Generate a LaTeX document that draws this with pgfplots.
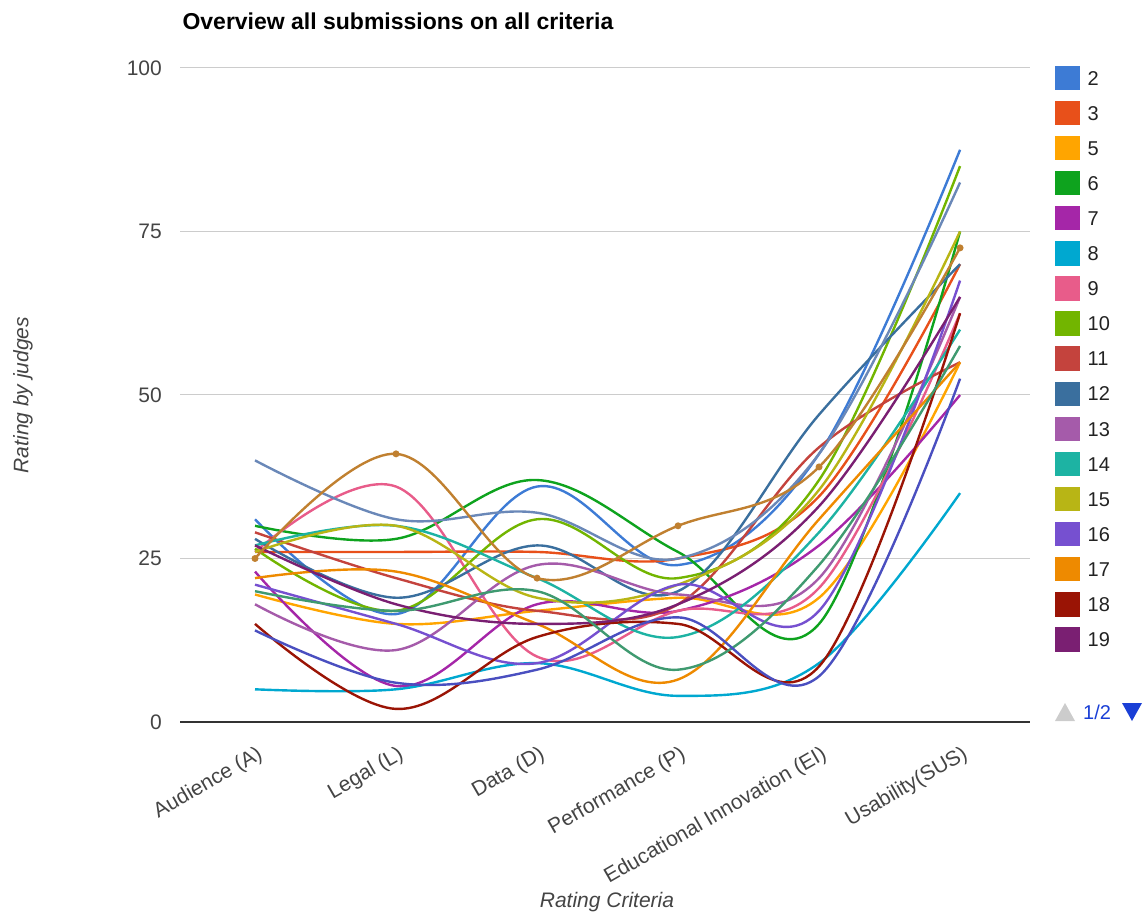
\documentclass[border=0pt]{standalone}
\usepackage{fontspec}
\setmainfont{Liberation Sans}
\usepackage{pgfplots}
\pgfplotsset{compat=1.18}

\definecolor{cA}{HTML}{3D7BD5}
\definecolor{cB}{HTML}{E8501A}
\definecolor{cC}{HTML}{FFA500}
\definecolor{cD}{HTML}{0EA31E}
\definecolor{cE}{HTML}{A526A8}
\definecolor{cF}{HTML}{00A8D0}
\definecolor{cG}{HTML}{E85C8A}
\definecolor{cH}{HTML}{72B500}
\definecolor{cI}{HTML}{C4433D}
\definecolor{cJ}{HTML}{3A6F9E}
\definecolor{cK}{HTML}{A55BAA}
\definecolor{cL}{HTML}{1DB3A3}
\definecolor{cM}{HTML}{B8B515}
\definecolor{cN}{HTML}{7650D0}
\definecolor{cO}{HTML}{EE8A00}
\definecolor{cP}{HTML}{9A1405}
\definecolor{cQ}{HTML}{7A1F72}
\definecolor{cR}{HTML}{3F9A70}
\definecolor{cS}{HTML}{6A88B8}
\definecolor{cT}{HTML}{4A4FC0}
\definecolor{cU}{HTML}{C08030}
\definecolor{gridgray}{HTML}{CCCCCC}
\definecolor{axisgray}{HTML}{333333}
\definecolor{tickgray}{HTML}{444444}
\definecolor{legtext}{HTML}{222222}
\definecolor{pagerblue}{HTML}{1A3FD6}

\begin{document}
\begin{tikzpicture}[x=1pt,y=1pt]
\path[use as bounding box] (0,0) rectangle (1145,916);
\begin{axis}[
    at={(180pt,194pt)}, anchor=south west,
    scale only axis, width=850pt, height=654pt,
    xmin=-0.532, xmax=5.496, ymin=0, ymax=100,
    xtick={0,...,5},
    xticklabels={Audience (A), Legal (L), Data (D), Performance (P),
                 Educational Innovation (EI), Usability(SUS)},
    ytick={0,25,50,75,100},
    ymajorgrids, grid style={draw=gridgray, line width=1pt},
    major tick length=0pt,
    axis x line*=bottom, axis y line*=left,
    x axis line style={draw=axisgray, line width=1.5pt, -},
    y axis line style={draw=none},
    /pgf/number format/assume math mode=true,
    tick label style={font=\fontsize{21}{24}\selectfont, text=tickgray},
    yticklabel style={anchor=east, inner sep=0pt, xshift=-18pt},
    xticklabel style={xshift=6pt, yshift=-31pt, anchor=east, inner sep=0pt, rotate=30},
    every axis plot/.append style={smooth, tension=0.6, line width=2.4pt},
    legend style={at={(axis description cs:1.026,1.007)}, anchor=north west,
        draw=none, fill=none, font=\fontsize{20}{22}\selectfont, text=legtext,
        row sep=10.7pt, nodes={inner sep=1pt},
        /tikz/every odd column/.append style={column sep=7pt}},
    legend cell align=left,
    legend image code/.code={\fill[#1] (0pt,-10pt) rectangle (22pt,12pt);},
]
% columns: A, L, D, P, EI, SUS
\addplot[cA] coordinates {(0,31) (1,16.5) (2,36) (3,24) (4,41) (5,87.5)};
\addlegendentry{2}
\addplot[cB] coordinates {(0,26) (1,26) (2,26) (3,25) (4,34.5) (5,70)};
\addlegendentry{3}
\addplot[cC] coordinates {(0,19.5) (1,15) (2,17) (3,19) (4,19) (5,55)};
\addlegendentry{5}
\addplot[cD] coordinates {(0,30) (1,28) (2,37) (3,26) (4,15) (5,75)};
\addlegendentry{6}
\addplot[cE] coordinates {(0,23) (1,5.5) (2,18) (3,17) (4,27) (5,50)};
\addlegendentry{7}
\addplot[cF] coordinates {(0,5) (1,5) (2,9) (3,4) (4,9) (5,35)};
\addlegendentry{8}
\addplot[cG] coordinates {(0,26) (1,36) (2,10) (3,17) (4,20.5) (5,62.5)};
\addlegendentry{9}
\addplot[cH] coordinates {(0,26.5) (1,17) (2,31) (3,22) (4,37) (5,85)};
\addlegendentry{10}
\addplot[cI] coordinates {(0,29) (1,22) (2,17) (3,18) (4,42) (5,55)};
\addlegendentry{11}
\addplot[cJ] coordinates {(0,28) (1,19) (2,27) (3,20) (4,47) (5,70)};
\addlegendentry{12}
\addplot[cK] coordinates {(0,18) (1,11) (2,24) (3,19.5) (4,22) (5,65)};
\addlegendentry{13}
\addplot[cL] coordinates {(0,27) (1,30) (2,22) (3,13) (4,29) (5,60)};
\addlegendentry{14}
\addplot[cM] coordinates {(0,26) (1,30) (2,19) (3,21) (4,35.5) (5,75)};
\addlegendentry{15}
\addplot[cN] coordinates {(0,21) (1,15) (2,9) (3,21) (4,17) (5,67.5)};
\addlegendentry{16}
\addplot[cO] coordinates {(0,22) (1,23) (2,15) (3,6.5) (4,31) (5,55)};
\addlegendentry{17}
\addplot[cP] coordinates {(0,15) (1,2) (2,13) (3,15) (4,8.5) (5,62.5)};
\addlegendentry{18}
\addplot[cQ] coordinates {(0,27) (1,18) (2,15) (3,18) (4,33) (5,65)};
\addlegendentry{19}
\addplot[cR, forget plot] coordinates {(0,20) (1,17) (2,20) (3,8) (4,24) (5,57.5)};
\addplot[cS, forget plot] coordinates {(0,40) (1,31) (2,32) (3,25) (4,41) (5,82.5)};
\addplot[cT, forget plot] coordinates {(0,14) (1,6) (2,8) (3,16) (4,7) (5,52.5)};
\addplot[cU, forget plot, mark=*, mark size=2.2pt] coordinates {(0,25) (1,41) (2,22) (3,30) (4,39) (5,72.5)};
\end{axis}
\node[anchor=base west, font=\fontsize{23}{26}\selectfont\bfseries] at (179,886)
    {Overview all submissions on all criteria};
\node[rotate=90, font=\fontsize{21}{24}\selectfont\itshape, text=tickgray] at (23,521)
    {Rating by judges};
\node[font=\fontsize{21}{24}\selectfont\itshape, text=tickgray] at (607,14)
    {Rating Criteria};
% legend pager
\fill[gridgray] (1055,195) -- (1075,195) -- (1065,213) -- cycle;
\node[anchor=west, inner sep=0pt, font=\fontsize{20}{22}\selectfont, text=pagerblue] at (1083,204) {1/2};
\fill[pagerblue] (1122,213) -- (1142,213) -- (1132,195) -- cycle;
\end{tikzpicture}
\end{document}
